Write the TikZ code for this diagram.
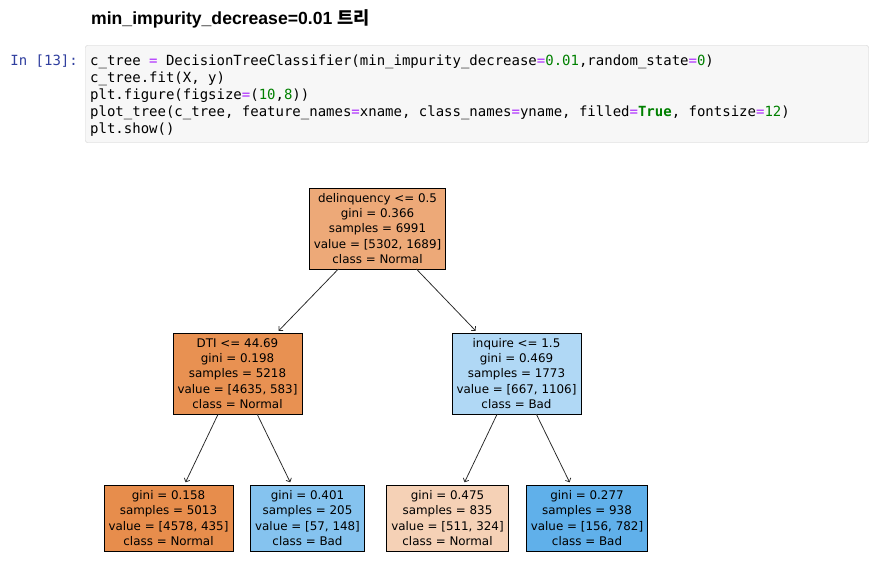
\documentclass[tikz,border=0pt]{standalone}
\usepackage{fontspec}
\setmainfont{DejaVu Sans}
\setmonofont{DejaVu Sans Mono}
\newfontfamily\headfont{Liberation Sans}
\newfontfamily\krfont{Noto Sans CJK KR}
\usetikzlibrary{arrows.meta}

\definecolor{eqpurple}{HTML}{AA22FF}
\definecolor{numgreen}{HTML}{008000}
\definecolor{promptblue}{HTML}{303F9F}
\definecolor{cellgray}{HTML}{F7F7F7}
\definecolor{cellborder}{HTML}{CFCFCF}
\definecolor{rootfill}{RGB}{237,169,120}
\definecolor{dtifill}{RGB}{232,145,82}
\definecolor{inqfill}{RGB}{176,216,245}
\definecolor{leafa}{RGB}{231,141,76}
\definecolor{leafb}{RGB}{133,195,239}
\definecolor{leafc}{RGB}{245,209,182}
\definecolor{leafd}{RGB}{96,176,234}

\newcommand{\peq}{\textcolor{eqpurple}{=}}
\newcommand{\pnum}[1]{\textcolor{numgreen}{#1}}

\tikzset{
  treenode/.style={draw=black, line width=0.8pt, align=center,
    font=\fontsize{11.9}{15.3}\selectfont, inner xsep=4.5pt, outer sep=0pt},
  split/.style={treenode, minimum height=81pt},
  leaf/.style={treenode, minimum height=66pt},
  edge/.style={-{Straight Barb[length=3pt,width=6pt]}, line width=0.75pt,
    draw=black!85, shorten >=3pt},
  codeline/.style={anchor=base west, inner sep=0pt,
    font=\ttfamily\fontsize{14}{17}\selectfont}
}

\begin{document}
\begin{tikzpicture}[x=1pt,y=-1pt]

  \useasboundingbox[fill=white] (0,0) rectangle (880,578);

  % heading
  \node[anchor=base west, inner sep=0pt,
    font=\headfont\bfseries\fontsize{17.6}{20}\selectfont] (title) at (91,25)
    {min\_impurity\_decrease=0.01 {\krfont 트리}};

  % code cell
  \draw[fill=cellgray, draw=cellborder, rounded corners=2pt] (85.5,45.5) rectangle (868.5,142.5);
  \node[codeline, anchor=base east, text=promptblue] (prompt) at (78,65) {In [13]:};
  \node[codeline] (line1) at (90,65)
    {c\_tree \peq{} DecisionTreeClassifier(min\_impurity\_decrease\peq\pnum{0.01},random\_state\peq\pnum{0})};
  \node[codeline] (line2) at (90,82) {c\_tree.fit(X, y)};
  \node[codeline] (line3) at (90,99) {plt.figure(figsize\peq(\pnum{10},\pnum{8}))};
  \node[codeline] (line4) at (90,116)
    {plot\_tree(c\_tree, feature\_names\peq xname, class\_names\peq yname, filled\peq\textbf{\pnum{True}}, fontsize\peq\pnum{12})};
  \node[codeline] (line5) at (90,133) {plt.show()};

  % tree
  \node[split, fill=rootfill] (root) at (377.5,228.5)
    {delinquency <= 0.5\\gini = 0.366\\samples = 6991\\value = [5302, 1689]\\class = Normal};
  \node[split, fill=dtifill] (dti) at (237.5,373.5)
    {DTI <= 44.69\\gini = 0.198\\samples = 5218\\value = [4635, 583]\\class = Normal};
  \node[split, fill=inqfill] (inq) at (516.5,373.5)
    {inquire <= 1.5\\gini = 0.469\\samples = 1773\\value = [667, 1106]\\class = Bad};

  \node[leaf, fill=leafa] (leafa) at (168.5,518)
    {gini = 0.158\\samples = 5013\\value = [4578, 435]\\class = Normal};
  \node[leaf, fill=leafb] (leafb) at (307.5,518)
    {gini = 0.401\\samples = 205\\value = [57, 148]\\class = Bad};
  \node[leaf, fill=leafc] (leafc) at (447.5,518)
    {gini = 0.475\\samples = 835\\value = [511, 324]\\class = Normal};
  \node[leaf, fill=leafd] (leafd) at (587,518)
    {gini = 0.277\\samples = 938\\value = [156, 782]\\class = Bad};

  \draw[edge] (root) -- (dti);
  \draw[edge] (root) -- (inq);
  \draw[edge] (dti) -- (leafa);
  \draw[edge] (dti) -- (leafb);
  \draw[edge] (inq) -- (leafc);
  \draw[edge] (inq) -- (leafd);

\end{tikzpicture}
\end{document}
